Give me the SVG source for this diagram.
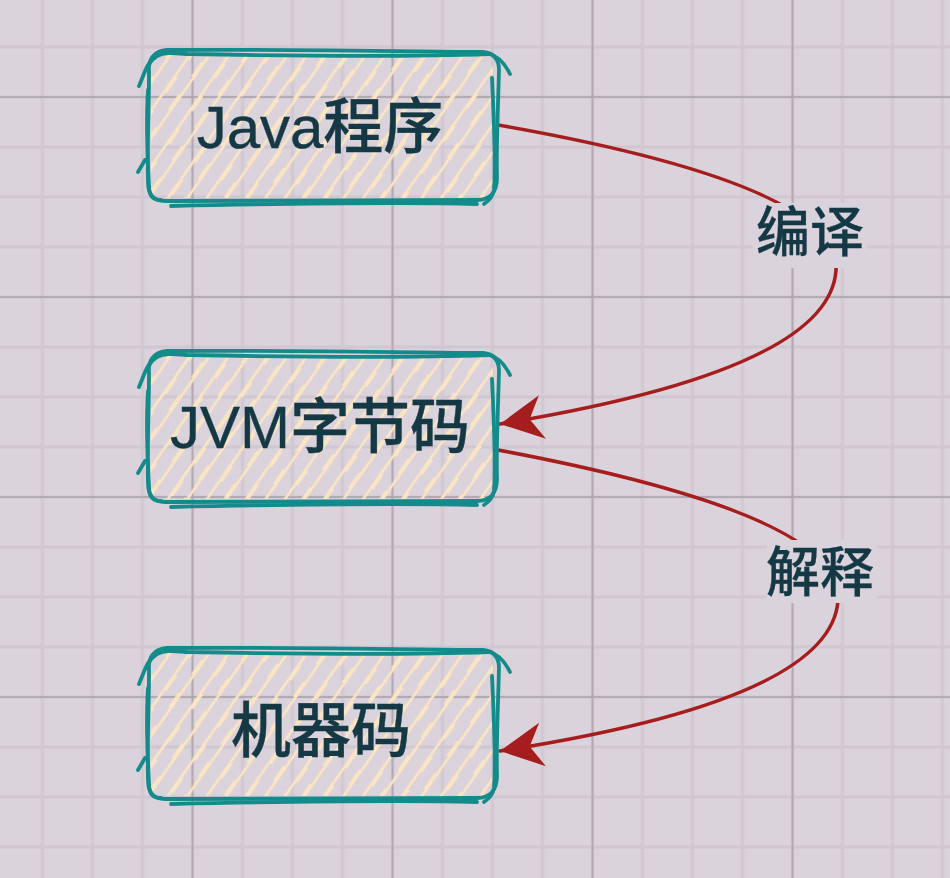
<svg xmlns="http://www.w3.org/2000/svg" width="950" height="878" viewBox="0 0 950 878">
  <style>
    .edge { fill: none; stroke: #148b8b; stroke-width: 3.8; stroke-linecap: round; stroke-linejoin: round; }
    .hatchfill { fill: url(#hatch); }
    .node-text { font-family: "Liberation Sans", "Noto Sans CJK SC", sans-serif; font-size: 60px; font-weight: 500; fill: #153845; stroke: #153845; stroke-width: 0.4; text-anchor: middle; }
    .label-text { font-family: "Liberation Sans", "Noto Sans CJK SC", sans-serif; font-size: 54px; font-weight: 500; fill: #153845; stroke: #153845; stroke-width: 0.3; text-anchor: middle; }
    .label-bg { fill: #dbd3db; }
    .conn { fill: none; stroke: #a51d1d; stroke-width: 3.6; stroke-linecap: round; }
  </style>
  <defs>
    <pattern id="minor" patternUnits="userSpaceOnUse" x="17.5" y="22" width="50" height="50">
      <path d="M25,0 V50 M0,25 H50" stroke="#d0c7d0" stroke-width="3" fill="none"/>
    </pattern>
    <pattern id="major" patternUnits="userSpaceOnUse" x="92.5" y="-3" width="200" height="200">
      <path d="M100,0 V200 M0,100 H200" stroke="#aaa2aa" stroke-width="1.6" fill="none"/>
    </pattern>
    <pattern id="hatch" patternUnits="userSpaceOnUse" width="32" height="40" patternTransform="rotate(35)">
      <path d="M6,0 V40 M22,0 V40" stroke="#fbe5c3" stroke-width="2.6" fill="none"/>
      <path d="M8,6 V24 M20,18 V36" stroke="#fbe5c3" stroke-width="1.8" fill="none"/>
    </pattern>
    <marker id="arrow" markerUnits="userSpaceOnUse" markerWidth="50" markerHeight="50" viewBox="-46 -25 50 50" refX="0" refY="0" orient="auto">
      <path d="M0,0 L-43,-22 L-30,0 L-43,22 Z" fill="#a51d1d"/>
    </marker>
    <g id="sketch-box">
      <rect class="hatchfill" x="4" y="4" width="342" height="144"/>
      <path class="edge" d="M2,22 C1,9 7,1 20,0 C120,-1 240,1 336,2 C347,3 352,9 352,20 C351,60 349,100 350,128 C350,142 343,150 330,150 C230,151 110,150 18,151 C6,151 1,144 1,132 C0,95 2,60 2,22 Z"/>
      <path class="edge" d="M-8,36 C-2,22 0,12 10,6 C18,2 26,3 40,4 C150,6 260,7 342,4 C352,6 358,14 363,24"/>
      <path class="edge" d="M345,28 C347,70 349,110 347,140 C346,146 343,150 337,154"/>
      <path class="edge" d="M330,154 C240,152 120,154 24,156"/>
      <path class="edge" d="M14,150 C6,150 2,146 2,136 C0,100 -1,70 1,40"/>
      <path class="edge" d="M-9,122 L-2,110"/>
    </g>
  </defs>

  <rect x="0" y="0" width="950" height="878" fill="#dbd3db"/>
  <rect x="0" y="0" width="950" height="878" fill="url(#minor)"/>
  <rect x="0" y="0" width="950" height="878" fill="url(#major)"/>

  <g id="connectors">
    <g id="edge-compile">
      <path class="conn" d="M498,125 Q840,185 836,270 Q830,370 500,424" marker-end="url(#arrow)"/>
      <rect class="label-bg" x="753" y="203" width="114" height="65"/>
      <text class="label-text" x="810" y="252">编译</text>
    </g>
    <g id="edge-interpret">
      <path class="conn" d="M498,450 Q845,515 838,600 Q832,700 500,751" marker-end="url(#arrow)"/>
      <rect class="label-bg" x="767" y="540" width="110" height="63"/>
      <text class="label-text" x="820" y="592">解释</text>
    </g>
  </g>

  <g id="node-java">
    <use href="#sketch-box" transform="translate(147,50)"/>
    <text class="node-text" x="320" y="148">Java程序</text>
  </g>
  <g id="node-bytecode">
    <use href="#sketch-box" transform="translate(147,351)"/>
    <text class="node-text" x="320" y="448">JVM字节码</text>
  </g>
  <g id="node-machine">
    <use href="#sketch-box" transform="translate(147,648)"/>
    <text class="node-text" x="321" y="752">机器码</text>
  </g>
</svg>
